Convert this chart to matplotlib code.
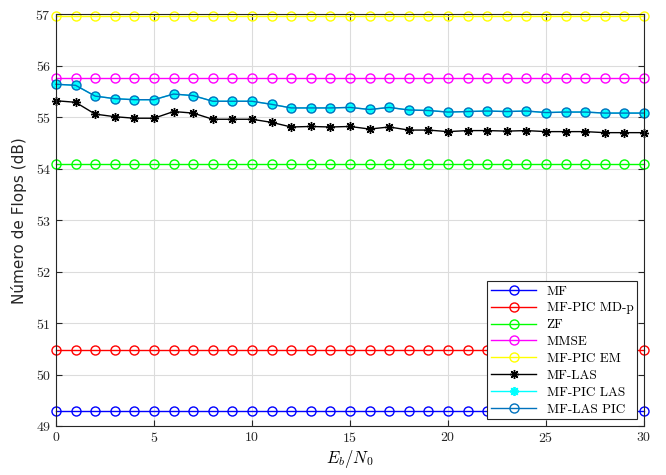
import matplotlib as mpl
import matplotlib.pyplot as plt
import numpy as np

mpl.rcParams['mathtext.fontset'] = 'cm'
mpl.rcParams['axes.formatter.use_mathtext'] = True

# Eb/N0 axis
ebn0 = np.arange(0, 31)

# flat curves (dB)
mf = [49.29] * 31
mf_pic_mdp = [50.48] * 31
zf = [54.09] * 31
mmse = [55.77] * 31
mf_pic_em = [56.97] * 31

# LAS curves
mf_las = [55.32, 55.29, 55.06, 55.01, 54.98, 54.98, 55.11, 55.08, 54.96, 54.96,
          54.96, 54.90, 54.81, 54.82, 54.81, 54.82, 54.77, 54.81, 54.75, 54.75,
          54.72, 54.74, 54.74, 54.73, 54.74, 54.72, 54.72, 54.72, 54.70, 54.70,
          54.70]
mf_las_pic = [55.64, 55.62, 55.41, 55.36, 55.34, 55.34, 55.45, 55.42, 55.31, 55.31,
              55.31, 55.25, 55.18, 55.18, 55.18, 55.19, 55.15, 55.19, 55.14, 55.13,
              55.10, 55.11, 55.12, 55.11, 55.12, 55.09, 55.10, 55.10, 55.08, 55.08,
              55.08]
mf_pic_las = mf_las_pic

asterisk = (8, 2, 0)

fig = plt.figure(figsize=(6.66, 4.75), dpi=100)
ax = fig.add_axes([0.084, 0.103, 0.883, 0.867])

kw = dict(linewidth=1.0, markersize=6.5, markeredgewidth=1.0, clip_on=False)
ax.plot(ebn0, mf, color='#0000ff', marker='o', mfc='none', label='MF', **kw)
ax.plot(ebn0, mf_pic_mdp, color='#ff0000', marker='o', mfc='none', label='MF-PIC MD-p', **kw)
ax.plot(ebn0, zf, color='#00ff00', marker='o', mfc='none', label='ZF', **kw)
ax.plot(ebn0, mmse, color='#ff00ff', marker='o', mfc='none', label='MMSE', **kw)
ax.plot(ebn0, mf_pic_em, color='#ffff00', marker='o', mfc='none', label='MF-PIC EM', **kw)
ax.plot(ebn0, mf_las, color='black', marker=asterisk, label='MF-LAS',
        linewidth=1.0, markersize=6.5, markeredgewidth=1.0, clip_on=False)
ax.plot(ebn0, mf_pic_las, color='#00ffff', marker=asterisk, label='MF-PIC LAS',
        linewidth=1.0, markersize=6.5, markeredgewidth=1.3, clip_on=False)
ax.plot(ebn0, mf_las_pic, color='#0072bd', marker='o', mfc='none', label='MF-LAS PIC', **kw)

ax.set_xlim(0, 30)
ax.set_ylim(49, 57)
ax.set_xticks(np.arange(0, 31, 5))
ax.set_yticks(np.arange(49, 58, 1))
ax.grid(color='#dcdcdc', linewidth=0.8)
ax.set_axisbelow(True)
ax.tick_params(direction='in', top=True, right=True, length=4, width=0.8,
               colors='#262626', labelsize=10)
for lbl in ax.get_xticklabels() + ax.get_yticklabels():
    lbl.set_fontfamily('cmr10')
for s in ax.spines.values():
    s.set_color('#262626')
    s.set_linewidth(0.8)

ax.set_xlabel(r'$E_b/N_0$', fontsize=12, labelpad=2)
ax.set_ylabel('Número de Flops (dB)', fontsize=11, color='#262626', labelpad=6)

leg = ax.legend(loc='lower right', prop={'family': 'cmr10', 'size': 9.5},
                fancybox=False, framealpha=1, edgecolor='#262626',
                borderaxespad=0.5, handlelength=3.4, labelspacing=0.35,
                borderpad=0.3)
leg.get_frame().set_linewidth(0.8)

fig.savefig('out.png', dpi=100)
